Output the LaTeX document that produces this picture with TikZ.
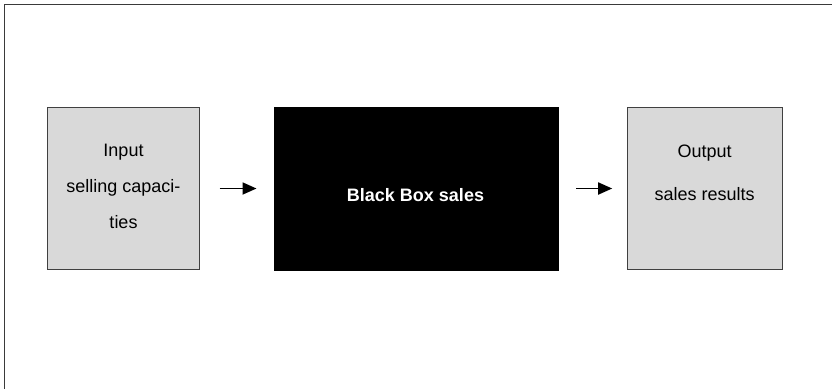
\documentclass[tikz,border=0pt]{standalone}
\usepackage{fontspec}
\setmainfont{Liberation Sans}
\usetikzlibrary{arrows.meta}
\definecolor{boxgray}{HTML}{D9D9D9}
\definecolor{edgegray}{HTML}{404040}
\definecolor{framegray}{HTML}{3A3A3A}
\tikzset{
  box/.style={draw=edgegray, line width=1.1pt, fill=boxgray, inner sep=0pt, outer sep=0pt},
  blackbox/.style={draw=black, line width=1pt, fill=black, inner sep=0pt, outer sep=0pt},
  lbl/.style={anchor=base, inner sep=0pt, font=\fontsize{18}{18}\selectfont},
  flow/.style={line width=1.8pt, -{Triangle[length=14pt,width=12pt]}},
  frame/.style={draw=framegray, line width=1.8pt}
}
\begin{document}
\begin{tikzpicture}[x=1pt,y=-1pt]
\useasboundingbox (0,0) rectangle (832,389);
% frame (top and left edges)
\coordinate (ftr) at (832,4.5);
\coordinate (ftl) at (4.5,4.5);
\coordinate (fbl) at (4.5,389);
\draw[frame] (ftr) -- (ftl) -- (fbl);
% boxes
\node[box, minimum width=152pt, minimum height=162pt] (inbox) at (123.5,188.5) {};
\node[blackbox, minimum width=284pt, minimum height=163pt] (bbox) at (416.5,188.5) {};
\node[box, minimum width=155pt, minimum height=162pt] (outbox) at (704.7,188.5) {};
% texts
\node[lbl] (t1) at (123.5,156) {Input};
\node[lbl] (t2) at (123.5,192) {selling capaci-};
\node[lbl] (t3) at (123.5,228) {ties};
\node[lbl, text=white, font=\fontsize{18}{18}\selectfont\bfseries] (t4) at (415.5,201) {Black Box sales};
\node[lbl] (t5) at (704.7,157) {Output};
\node[lbl] (t6) at (704.7,200) {sales results};
% arrows
\draw[flow, shorten <=20pt, shorten >=18pt] (inbox.east) -- (bbox.west);
\draw[flow, shorten <=17.5pt, shorten >=15pt] (bbox.east) -- (outbox.west);
\end{tikzpicture}
\end{document}
